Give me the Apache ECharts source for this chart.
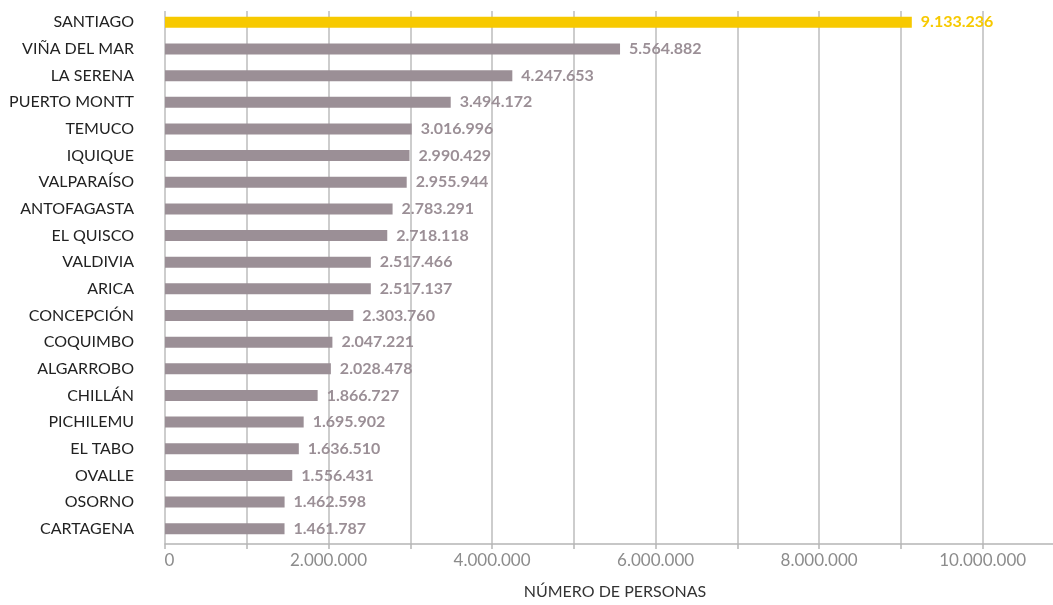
<!DOCTYPE html>
<html>
<head>
<meta charset="utf-8">
<script src="https://cdn.jsdelivr.net/npm/echarts@6/dist/echarts.min.js"></script>
<style>
html,body{margin:0;padding:0;background:#fff;}
#chart{width:1053px;height:605px;}
</style>
</head>
<body>
<div id="chart"></div>
<script>
const categories = ["SANTIAGO","VIÑA DEL MAR","LA SERENA","PUERTO MONTT","TEMUCO","IQUIQUE","VALPARAÍSO","ANTOFAGASTA","EL QUISCO","VALDIVIA","ARICA","CONCEPCIÓN","COQUIMBO","ALGARROBO","CHILLÁN","PICHILEMU","EL TABO","OVALLE","OSORNO","CARTAGENA"];
const values = [9133236,5564882,4247653,3494172,3016996,2990429,2955944,2783291,2718118,2517466,2517137,2303760,2047221,2028478,1866727,1695902,1636510,1556431,1462598,1461787];
const axisMax = 10860000;
const axisInterval = 1000000;
const labelStep = 2000000;
const axisName = "NÚMERO DE PERSONAS";

const GRAY = "#9b8f96";
const YELLOW = "#f7c900";
const fmt = v => Math.round(v).toString().replace(/\B(?=(\d{3})+(?!\d))/g, ".");

const chart = echarts.init(document.getElementById('chart'));
chart.setOption({
  animation: false,
  grid: [
    {left: 165, right: 0, top: 11, height: 540},
    {left: 165, right: 0, top: 9, height: 533}
  ],
  xAxis: [
    {
      gridIndex: 0, type: 'value', min: 0, max: axisMax, interval: axisInterval,
      name: axisName, nameLocation: 'middle', nameGap: 40,
      nameTextStyle: {color: '#333', fontSize: 16, fontFamily: 'Lato', padding: [0, 0, 0, 12]},
      axisLine: {show: true, lineStyle: {color: '#b5b5b5', width: 1.5}},
      axisTick: {show: true, length: 5, lineStyle: {color: '#b5b5b5', width: 1.5}},
      splitLine: {show: true, showMaxLine: false, lineStyle: {color: '#bdbdbd', width: 1.5}},
      axisLabel: {
        showMaxLabel: false, margin: 8,
        color: '#8c8c8c', fontSize: 17, fontFamily: 'Lato',
        formatter: v => (v === 0 ? '{z|0}' : (v % labelStep === 0 ? fmt(v) : '')),
        rich: {z: {color: '#8c8c8c', fontSize: 17, fontFamily: 'Lato', padding: [0, 0, 0, 9]}}
      }
    },
    {
      gridIndex: 1, type: 'value', min: 0, max: axisMax, interval: axisInterval, show: false
    }
  ],
  yAxis: [
    {gridIndex: 0, type: 'value', show: false},
    {
      gridIndex: 1, type: 'category', data: categories, inverse: true,
      axisLine: {show: false}, axisTick: {show: false},
      axisLabel: {margin: 31, color: '#222', fontSize: 16, fontFamily: 'Lato'}
    }
  ],
  series: [{
    type: 'bar', xAxisIndex: 1, yAxisIndex: 1,
    barWidth: 11,
    data: values.map((v, i) => ({
      value: v,
      itemStyle: {color: i === 0 ? YELLOW : GRAY},
      label: {color: i === 0 ? YELLOW : GRAY}
    })),
    label: {
      show: true, position: 'right', distance: 9,
      fontSize: 16, fontWeight: 'bold', fontFamily: 'Lato',
      formatter: p => fmt(p.value)
    }
  }]
});
</script>
</body>
</html>
